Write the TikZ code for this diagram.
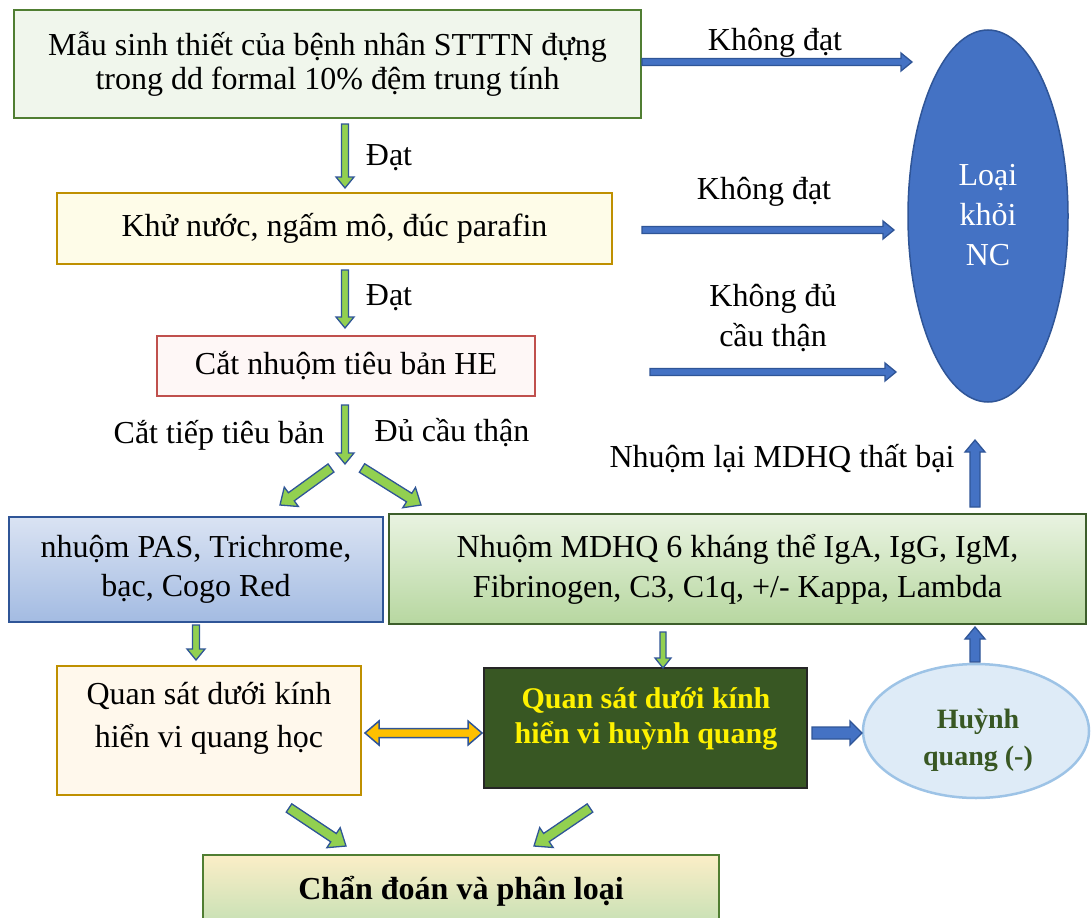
\documentclass[tikz,border=0pt]{standalone}
\usepackage{fontspec}
\setmainfont{Liberation Serif}
\usetikzlibrary{calc,shapes.geometric}
\definecolor{bdgreen}{HTML}{507E32}
\definecolor{fgreen}{HTML}{F0F6EC}
\definecolor{gold}{HTML}{BF9000}
\definecolor{fyellow}{HTML}{FEFCE8}
\definecolor{redb}{HTML}{C0504D}
\definecolor{fpink}{HTML}{FEF7F6}
\definecolor{dblue}{HTML}{2F5597}
\definecolor{mblue}{HTML}{4472C4}
\definecolor{btop}{HTML}{DAE3F3}
\definecolor{bbot}{HTML}{A3BBE2}
\definecolor{gtop}{HTML}{E9F3E1}
\definecolor{gbot}{HTML}{B7D7A0}
\definecolor{gbd}{HTML}{3D5E2B}
\definecolor{fcream}{HTML}{FFF8EC}
\definecolor{dkgreen}{HTML}{385723}
\definecolor{lblue}{HTML}{DEEBF7}
\definecolor{lbluebd}{HTML}{9DC3E6}
\definecolor{ytop}{HTML}{FBEEC7}
\definecolor{ybot}{HTML}{C5E0B4}
\definecolor{arrgreen}{HTML}{92D050}
\definecolor{arrorange}{HTML}{FFC000}
\newcommand\blockarrow[6]{%
  \coordinate (bah) at ($(#2)!#5!(#1)$);
  \path[#6] ($(#1)!#3!90:(#2)$) -- ($(bah)!#3!90:(#2)$) -- ($(bah)!#4!90:(#2)$) -- (#2)
    -- ($(bah)!#4!-90:(#2)$) -- ($(bah)!#3!-90:(#2)$) -- ($(#1)!#3!-90:(#2)$) -- cycle;}
\newcommand\dblblockarrow[6]{%
  \coordinate (bha) at ($(#1)!#5!(#2)$);
  \coordinate (bhb) at ($(#2)!#5!(#1)$);
  \path[#6] (#1) -- ($(bha)!#4!90:(#2)$) -- ($(bha)!#3!90:(#2)$) -- ($(bhb)!#3!90:(#2)$)
    -- ($(bhb)!#4!90:(#2)$) -- (#2) -- ($(bhb)!#4!-90:(#2)$) -- ($(bhb)!#3!-90:(#2)$)
    -- ($(bha)!#3!-90:(#2)$) -- ($(bha)!#4!-90:(#2)$) -- cycle;}
\tikzset{
  box/.style={rectangle, inner sep=0pt, align=center, line width=1.5pt,
    font=\fontsize{32}{34}\selectfont},
  lbl/.style={inner sep=0pt, align=center, font=\fontsize{32}{34}\selectfont},
  greenarr/.style={fill=arrgreen, draw=dblue, line width=1.3pt, line join=miter},
  bluearr/.style={fill=mblue, draw=dblue, line width=1.3pt, line join=miter},
  orangearr/.style={fill=arrorange, draw=dblue, line width=1.5pt, line join=miter},
}
\begin{document}
\begin{tikzpicture}[x=1pt,y=-1pt]
\useasboundingbox (0,0) rectangle (1092,918);
% boxes
\node[box, draw=bdgreen, fill=fgreen, minimum width=627pt, minimum height=108pt] (b1) at (327.5,64)
  {Mẫu sinh thiết của bệnh nhân STTTN đựng\\trong dd formal 10\% đệm trung tính};
\node[box, draw=gold, fill=fyellow, minimum width=555pt, minimum height=71pt] (b2) at (334.5,228.5)
  {Khử nước, ngấm mô, đúc parafin};
\node[box, draw=redb, fill=fpink, minimum width=378pt, minimum height=60pt] (b3) at (346,366)
  {Cắt nhuộm tiêu bản HE};
\node[box, draw=dblue, top color=btop, bottom color=bbot, minimum width=374pt, minimum height=105pt] (b4) at (196,569.5)
  {nhuộm PAS, Trichrome,\\[5pt]bạc, Cogo Red};
\node[box, draw=gbd, top color=gtop, bottom color=gbot, minimum width=697pt, minimum height=110pt] (b5) at (737.5,569)
  {Nhuộm MDHQ 6 kháng thể IgA, IgG, IgM,\\[6pt]Fibrinogen, C3, C1q, +/- Kappa, Lambda};
\node[box, draw=gold, fill=fcream, minimum width=304pt, minimum height=129pt] (b6) at (209,730.5) {};
\node[lbl, font=\fontsize{32}{43}\selectfont] (b6t) at (209,718) {Quan sát dưới kính\\hiển vi quang học};
\node[box, draw=black!85, fill=dkgreen, minimum width=323pt, minimum height=120pt] (b7) at (645.5,728) {};
\node[lbl, text=yellow, font=\bfseries\fontsize{30}{35}\selectfont] (b7t) at (646,719) {Quan sát dưới kính\\hiển vi huỳnh quang};
\node[ellipse, draw=lbluebd, fill=lblue, line width=2.5pt, minimum width=226pt, minimum height=134pt, inner sep=0pt] (e1) at (976,731) {};
\node[lbl, text=dkgreen, font=\bfseries\fontsize{28}{37}\selectfont] (e1t) at (978,740) {Huỳnh\\quang (-)};
\node[ellipse, draw=dblue, fill=mblue, line width=1.5pt, minimum width=160pt, minimum height=372pt, inner sep=0pt] (E) at (988,216) {};
\node[lbl, text=white, font=\fontsize{32}{40}\selectfont] (Et) at (988,215) {Loại\\khỏi\\NC};
\node[box, draw=bdgreen, top color=ytop, bottom color=ybot, minimum width=516pt, minimum height=72pt, font=\bfseries\fontsize{32}{34}\selectfont] (b8) at (461,891)
  {Chẩn đoán và phân loại};
% labels
\node[lbl] (l1) at (389,158) {Đạt};
\node[lbl] (l2) at (389,298) {Đạt};
\node[lbl] (l3) at (219,435) {Cắt tiếp tiêu bản};
\node[lbl] (l4) at (452,433) {Đủ cầu thận};
\node[lbl] (l5) at (775,43) {Không đạt};
\node[lbl] (l6) at (764,192) {Không đạt};
\node[lbl, font=\fontsize{32}{40}\selectfont] (l7) at (773,318) {Không đủ\\cầu thận};
\node[lbl] (l8) at (782,459) {Nhuộm lại MDHQ thất bại};
% connector end points
\coordinate (a1s) at (345,124); \coordinate (a1e) at (345,188);
\coordinate (a2s) at (345,270); \coordinate (a2e) at (345,328);
\coordinate (a3s) at (345,405); \coordinate (a3e) at (345,464);
\coordinate (d1s) at (331,468); \coordinate (d1e) at (280,505);
\coordinate (d2s) at (362,468); \coordinate (d2e) at (421,505);
\coordinate (a4s) at (196,625); \coordinate (a4e) at (196,660);
\coordinate (a5s) at (663,632); \coordinate (a5e) at (663,668);
\coordinate (h1s) at (365,733); \coordinate (h1e) at (482,733);
\coordinate (r1s) at (812,733); \coordinate (r1e) at (862,733);
\coordinate (u1s) at (975,662); \coordinate (u1e) at (975,627);
\coordinate (u2s) at (975,507); \coordinate (u2e) at (975,440);
\coordinate (k1s) at (642,62);  \coordinate (k1e) at (912,62);
\coordinate (k2s) at (642,230); \coordinate (k2e) at (894,230);
\coordinate (k3s) at (650,372); \coordinate (k3e) at (896,372);
\coordinate (f1s) at (289,808); \coordinate (f1e) at (346,846);
\coordinate (f2s) at (590,808); \coordinate (f2e) at (534,846);
% arrows
\blockarrow{a1s}{a1e}{3.5pt}{9pt}{11pt}{greenarr}
\blockarrow{a2s}{a2e}{3.5pt}{9pt}{11pt}{greenarr}
\blockarrow{a3s}{a3e}{3.5pt}{9pt}{11pt}{greenarr}
\blockarrow{d1s}{d1e}{5pt}{12pt}{14pt}{greenarr}
\blockarrow{d2s}{d2e}{5pt}{12pt}{14pt}{greenarr}
\blockarrow{a4s}{a4e}{3.5pt}{9pt}{11pt}{greenarr}
\blockarrow{a5s}{a5e}{3pt}{8pt}{10pt}{greenarr}
\blockarrow{f1s}{f1e}{5pt}{12pt}{15pt}{greenarr}
\blockarrow{f2s}{f2e}{5pt}{12pt}{15pt}{greenarr}
\dblblockarrow{h1s}{h1e}{4.5pt}{12pt}{14pt}{orangearr}
\blockarrow{r1s}{r1e}{6pt}{12pt}{12pt}{bluearr}
\blockarrow{u1s}{u1e}{5pt}{10pt}{12pt}{bluearr}
\blockarrow{u2s}{u2e}{5pt}{10pt}{12pt}{bluearr}
\blockarrow{k1s}{k1e}{3.5pt}{9pt}{11pt}{bluearr}
\blockarrow{k2s}{k2e}{3.5pt}{9pt}{11pt}{bluearr}
\blockarrow{k3s}{k3e}{3.5pt}{9pt}{11pt}{bluearr}
\end{tikzpicture}
\end{document}
